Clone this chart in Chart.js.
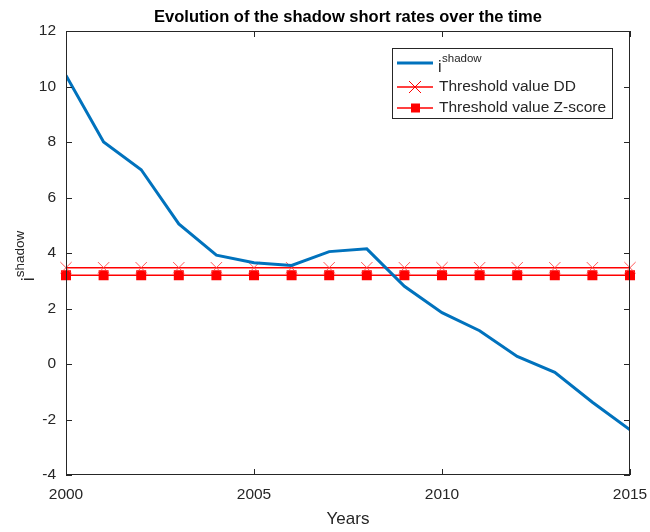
<!DOCTYPE html>
<html>
<head>
<meta charset="utf-8">
<script src="https://cdn.jsdelivr.net/npm/chart.js@4"></script>
<style>
  body { margin: 0; background: #fff; }
  #wrap { width: 650px; height: 532px; }
</style>
</head>
<body>
<div id="wrap"><canvas id="myChart"></canvas></div>
<script>
const years = [2000, 2001, 2002, 2003, 2004, 2005, 2006, 2007, 2008, 2009, 2010, 2011, 2012, 2013, 2014, 2015];
const shadowRate = [10.4, 8.0, 7.0, 5.05, 3.92, 3.65, 3.55, 4.05, 4.15, 2.8, 1.85, 1.2, 0.27, -0.3, -1.38, -2.37];
const thresholdDD = 3.47;
const thresholdZ = 3.2;
const xTicks = [2000, 2005, 2010, 2015];

const FONT = 'Liberation Sans, Arial, sans-serif';
const AXIS_COL = '#262626';

// draws box, inward ticks, titles and legend (matlab look)
const decor = {
    id: 'decor',
    afterDatasetsDraw(chart) {
        const c = chart.ctx;
        const a = chart.chartArea;
        const xs = chart.scales.x, ys = chart.scales.y;
        c.save();
        c.strokeStyle = AXIS_COL;
        c.lineWidth = 1;
        c.strokeRect(a.left + 0.5, a.top + 0.5, a.right - a.left - 1, a.bottom - a.top - 1);
        c.beginPath();
        xTicks.forEach(v => {
            const px = Math.round(xs.getPixelForValue(v)) + 0.5;
            c.moveTo(px, a.bottom); c.lineTo(px, a.bottom - 6);
            c.moveTo(px, a.top); c.lineTo(px, a.top + 6);
        });
        ys.ticks.forEach(t => {
            const py = Math.round(ys.getPixelForValue(t.value)) + 0.5;
            c.moveTo(a.left, py); c.lineTo(a.left + 6, py);
            c.moveTo(a.right, py); c.lineTo(a.right - 6, py);
        });
        c.stroke();

        // title
        c.fillStyle = '#000';
        c.font = 'bold 16.5px ' + FONT;
        c.textAlign = 'center';
        c.textBaseline = 'middle';
        c.fillText('Evolution of the shadow short rates over the time', (a.left + a.right) / 2, 17);

        // x title
        c.fillStyle = AXIS_COL;
        c.font = '17px ' + FONT;
        c.fillText('Years', (a.left + a.right) / 2, 519);

        // y title, rotated with superscript
        c.save();
        c.translate(23, 256);
        c.rotate(-Math.PI / 2);
        c.font = '18px ' + FONT;
        const wI = c.measureText('i').width;
        c.font = '13.5px ' + FONT;
        const wS = c.measureText('shadow').width;
        const x0 = -(wI + wS) / 2;
        c.textAlign = 'left';
        c.font = '18px ' + FONT;
        c.fillText('i', x0, 6);
        c.font = '13.5px ' + FONT;
        c.fillText('shadow', x0 + wI, -3);
        c.restore();

        // legend
        const lx = 392, ly = 48, lw = 220, lh = 70;
        c.fillStyle = '#fff';
        c.fillRect(lx, ly, lw, lh);
        c.strokeStyle = AXIS_COL;
        c.strokeRect(lx + 0.5, ly + 0.5, lw, lh);
        const rows = [63, 87, 108];
        c.lineWidth = 3;
        c.strokeStyle = '#0072BD';
        c.beginPath(); c.moveTo(397, rows[0]); c.lineTo(433, rows[0]); c.stroke();
        c.lineWidth = 1.5;
        c.strokeStyle = '#ff0000';
        c.beginPath(); c.moveTo(397, rows[1]); c.lineTo(433, rows[1]); c.stroke();
        c.lineWidth = 1;
        c.beginPath();
        c.moveTo(409, rows[1] - 6); c.lineTo(421, rows[1] + 6);
        c.moveTo(421, rows[1] - 6); c.lineTo(409, rows[1] + 6);
        c.stroke();
        c.lineWidth = 1.5;
        c.beginPath(); c.moveTo(397, rows[2]); c.lineTo(433, rows[2]); c.stroke();
        c.fillStyle = '#ff0000';
        c.fillRect(411, rows[2] - 4.5, 9, 9);

        c.fillStyle = AXIS_COL;
        c.textAlign = 'left';
        c.font = '16px ' + FONT;
        c.fillText('i', 438, rows[0] + 5);
        c.font = '11.5px ' + FONT;
        c.fillText('shadow', 442, rows[0] - 4);
        c.font = '15.5px ' + FONT;
        c.fillText('Threshold value DD', 439, rows[1]);
        c.fillText('Threshold value Z-score', 439, rows[2]);
        c.restore();
    }
};

new Chart(document.getElementById('myChart'), {
    type: 'line',
    data: {
        datasets: [
            {
                label: 'i shadow',
                data: years.map((y, i) => ({ x: y, y: shadowRate[i] })),
                borderColor: '#0072BD',
                borderWidth: 3,
                pointRadius: 0,
                tension: 0
            },
            {
                label: 'Threshold value DD',
                data: years.map(y => ({ x: y, y: thresholdDD })),
                borderColor: '#ff0000',
                borderWidth: 1.5,
                pointStyle: 'crossRot',
                pointRadius: 8,
                pointBorderColor: 'rgba(255,60,60,0.85)',
                pointBorderWidth: 1,
                clip: false
            },
            {
                label: 'Threshold value Z-score',
                data: years.map(y => ({ x: y, y: thresholdZ })),
                borderColor: '#ff0000',
                backgroundColor: '#ff0000',
                borderWidth: 1.5,
                pointStyle: 'rect',
                pointRadius: 6,
                pointBackgroundColor: '#ff0000',
                pointBorderColor: '#ff0000',
                clip: false
            }
        ]
    },
    options: {
        responsive: true,
        maintainAspectRatio: false,
        animation: false,
        layout: { padding: { top: 31, right: 20, left: 0, bottom: 0 } },
        plugins: { legend: { display: false }, title: { display: false }, tooltip: { enabled: false } },
        scales: {
            x: {
                type: 'linear',
                min: 2000,
                max: 2015,
                afterBuildTicks: s => { s.ticks = xTicks.map(v => ({ value: v })); },
                afterFit: s => { s.height = 57; s.paddingLeft = 0; s.paddingRight = 0; },
                grid: { display: false, drawTicks: false },
                border: { display: false },
                ticks: {
                    padding: 10,
                    color: AXIS_COL,
                    font: { family: FONT, size: 15.5 },
                    maxRotation: 0,
                    callback: v => String(v)
                }
            },
            y: {
                min: -4,
                max: 12,
                afterFit: s => { s.width = 66; s.paddingTop = 0; s.paddingBottom = 0; },
                grid: { display: false, drawTicks: false },
                border: { display: false },
                ticks: {
                    stepSize: 2,
                    padding: 10,
                    color: AXIS_COL,
                    font: { family: FONT, size: 15.5 }
                }
            }
        }
    },
    plugins: [decor]
});
</script>
</body>
</html>
